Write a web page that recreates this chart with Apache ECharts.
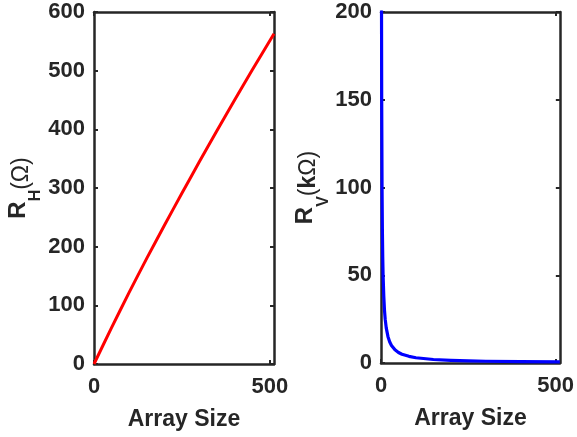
<!DOCTYPE html>
<html>
<head>
<meta charset="utf-8">
<script src="https://cdn.jsdelivr.net/npm/echarts@6/dist/echarts.min.js"></script>
<style>
  html, body { margin: 0; padding: 0; background: #fff; }
  #chart { width: 577px; height: 437px; }
</style>
</head>
<body>
<div id="chart"></div>
<script>
// Horizontal resistance R_H (Ω) versus array size
const sizeH = [0, 50, 100, 150, 200, 250, 300, 350, 400, 450, 512];
const resH  = [0, 62, 122, 180, 236, 291, 345, 398, 450, 501, 563];

// Vertical resistance R_V (kΩ) versus array size
const sizeV = [1, 1.5, 2, 3, 4, 5, 6, 8, 10, 12, 15, 20, 25, 30, 40, 50, 60, 80, 100, 150, 200, 250, 300, 400, 512];
const resV  = [300, 200, 150, 100, 75, 60, 50, 38, 30, 25, 20, 15, 12, 10, 7.5, 6, 5, 3.8, 3, 2, 1.5, 1.2, 1.0, 0.75, 0.6];

const xTicks = [0, 500];
const xMax = 512;

const axisColor = '#262626';
const fontFam = 'Arial, "Liberation Sans", Helvetica, sans-serif';

function pairs(xs, ys) { return xs.map((x, i) => [x, ys[i]]); }

const labelStyle = {
  color: axisColor, fontFamily: fontFam, fontWeight: 'bold', fontSize: 22
};

function nameRich() {
  return {
    r: { fontFamily: fontFam, fontWeight: 'bold', fontSize: 24, color: axisColor },
    s: { fontFamily: fontFam, fontWeight: 'bold', fontSize: 16, color: axisColor,
         verticalAlign: 'bottom', padding: [0, 0, -14, 0] },
    n: { fontFamily: fontFam, fontWeight: 'normal', fontSize: 23, color: axisColor,
         verticalAlign: 'bottom', padding: [0, 0, -3, 0] },
    b: { fontFamily: fontFam, fontWeight: 'bold', fontSize: 23, color: axisColor,
         verticalAlign: 'bottom', padding: [0, 0, -3, 0] }
  };
}

function xBottom(gi) {
  return {
    type: 'value', gridIndex: gi, min: 0, max: xMax, position: 'bottom',
    name: 'Array Size', nameLocation: 'middle', nameGap: 44,
    nameTextStyle: { color: axisColor, fontFamily: fontFam, fontWeight: 'bold', fontSize: 23 },
    axisLine: { show: true, onZero: false, lineStyle: { color: axisColor, width: 2.5 } },
    axisTick: { show: true, inside: true, length: 4, customValues: xTicks, lineStyle: { color: axisColor, width: 2 } },
    axisLabel: Object.assign({ margin: 12, customValues: xTicks }, labelStyle),
    splitLine: { show: false }
  };
}
function xTop(gi) {
  return {
    type: 'value', gridIndex: gi, min: 0, max: xMax, position: 'top',
    axisLine: { show: true, onZero: false, lineStyle: { color: axisColor, width: 2.5 } },
    axisTick: { show: true, inside: true, length: 4, customValues: xTicks, lineStyle: { color: axisColor, width: 2 } },
    axisLabel: { show: false },
    splitLine: { show: false }
  };
}
function yLeft(gi, maxV, step, nameStr, gap) {
  return {
    type: 'value', gridIndex: gi, min: 0, max: maxV, interval: step, position: 'left',
    name: nameStr, nameLocation: 'middle', nameGap: gap, nameRotate: 90,
    nameTextStyle: { rich: nameRich() },
    axisLine: { show: true, onZero: false, lineStyle: { color: axisColor, width: 2.5 } },
    axisTick: { show: true, inside: true, length: 4, lineStyle: { color: axisColor, width: 2 } },
    axisLabel: Object.assign({ margin: 9 }, labelStyle),
    splitLine: { show: false }
  };
}
function yRight(gi, maxV, step) {
  return {
    type: 'value', gridIndex: gi, min: 0, max: maxV, interval: step, position: 'right',
    axisLine: { show: true, onZero: false, lineStyle: { color: axisColor, width: 2.5 } },
    axisTick: { show: true, inside: true, length: 4, lineStyle: { color: axisColor, width: 2 } },
    axisLabel: { show: false },
    splitLine: { show: false }
  };
}

const chart = echarts.init(document.getElementById('chart'), null, { renderer: 'canvas' });
chart.setOption({
  animation: false,
  backgroundColor: '#ffffff',
  grid: [
    { left: 94, right: 303, top: 12, bottom: 73 },
    { left: 381, right: 15, top: 12, bottom: 74 }
  ],
  xAxis: [xBottom(0), xTop(0), xBottom(1), xTop(1)],
  yAxis: [
    yLeft(0, 600, 100, '{r|R}{s|H}{n|(Ω)}', 64),
    yRight(0, 600, 100),
    yLeft(1, 200, 50, '{r|R}{s|V}{n|(}{b|k}{n|Ω)}', 62),
    yRight(1, 200, 50)
  ],
  series: [
    {
      type: 'line', xAxisIndex: 0, yAxisIndex: 0, data: pairs(sizeH, resH),
      smooth: 0.2, showSymbol: false, clip: true,
      lineStyle: { color: '#ff0000', width: 3, join: 'round' }
    },
    {
      type: 'line', xAxisIndex: 2, yAxisIndex: 2, data: pairs(sizeV, resV),
      smooth: false, showSymbol: false, clip: true,
      lineStyle: { color: '#0000ff', width: 3.2, join: 'round' }
    }
  ]
});
</script>
</body>
</html>
